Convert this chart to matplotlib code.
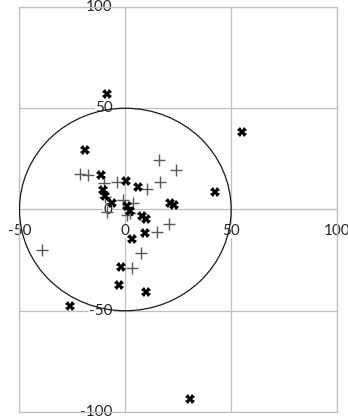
import numpy as np
import matplotlib.pyplot as plt
import matplotlib.patches as mpatch

# series 1: bold black crosses
x_pts = [-8.5, -19.2, -11.5, 0.3, 6.2, -10.4, -9.7, -6.4, 1.0, 2.2, 21.2, 23.0,
         7.8, 9.8, 9.3, 3.0, -2.0, -3.2, 9.7, -26.2, 54.9, 42.5, 30.5]
y_pts = [56.9, 29.3, 16.8, 14.3, 11.2, 9.5, 6.8, 3.3, 1.6, -0.8, 3.3, 2.0,
         -3.3, -4.9, -11.5, -14.5, -28.3, -37.2, -40.6, -47.7, 38.2, 8.5, -93.5]

# series 2: thin grey plus signs
x_plus = [16.0, 23.8, -21.4, -17.5, 16.2, -4.1, 10.1, -10.1, -9.6, -0.9, 3.8,
          -8.8, 0.7, 2.2, 20.6, 15.0, 7.3, 3.0, -39.6]
y_plus = [24.4, 19.4, 17.3, 16.8, 13.4, 13.8, 9.9, 13.0, 6.3, 4.7, 3.3,
          -1.2, -2.5, -1.6, -7.4, -11.2, -21.4, -28.7, -20.2]

radius = 50
xticks = [-50, 0, 50, 100]
yticks = [-100, -50, 0, 50, 100]

grid_col = '#bfbfbf'
txt_col = '#262626'

fig = plt.figure(figsize=(3.48, 4.19), dpi=100)
ax = fig.add_axes([0.056, 0.0167, 0.9124, 0.9666])
ax.set_xlim(-50, 100)
ax.set_ylim(-100, 100)

ax.set_xticks(xticks)
ax.set_yticks(yticks)
ax.grid(True, color=grid_col, linewidth=0.9)
ax.set_axisbelow(True)
ax.tick_params(axis='both', which='both', length=0,
               labelbottom=False, labelleft=False)
for sp in ax.spines.values():
    sp.set_color(grid_col)
    sp.set_linewidth(0.9)

## tick labels sit on the axes that cross at the origin
for v in yticks:
    ax.annotate(str(v), (0, v), xytext=(-9, 0), textcoords='offset points',
                ha='right', va='center', fontsize=11, family='Lato', color=txt_col,
                bbox=dict(facecolor='white', edgecolor='none', pad=0.3),
                zorder=2.5, annotation_clip=False)
for v in xticks:
    ax.annotate(str(v), (v, 0), xytext=(0, -15.5), textcoords='offset points',
                ha='center', va='center', fontsize=11, family='Lato', color=txt_col,
                bbox=dict(facecolor='white', edgecolor='none', pad=0.3),
                zorder=2.5, annotation_clip=False)

circle = mpatch.Circle((0, 0), radius, fill=False, edgecolor='#1a1a1a',
                       linewidth=0.9, zorder=3)
ax.add_patch(circle)

ax.plot(x_plus, y_plus, linestyle='none', marker='+', markersize=8,
        markeredgewidth=1.0, color='#595959', zorder=4)
ax.plot(x_pts, y_pts, linestyle='none', marker='X', markersize=7,
        markeredgewidth=0, color='black', zorder=5)

plt.savefig('out.png', dpi=100)
